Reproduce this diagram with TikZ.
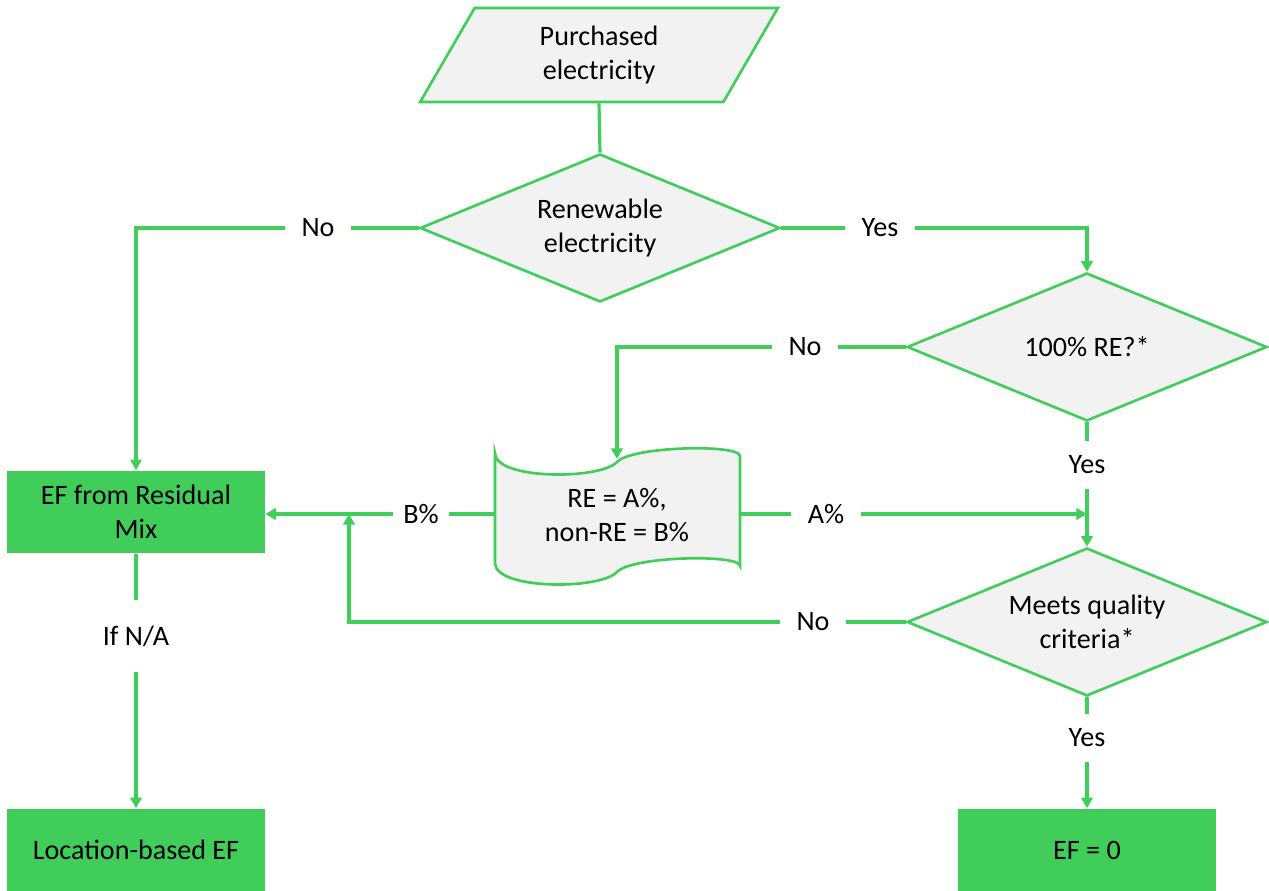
\documentclass[tikz,border=0pt]{standalone}
\usepackage{fontspec}
\setmainfont{Carlito}
\usetikzlibrary{shapes.geometric, arrows.meta, positioning}
\usepackage{xcolor}
\definecolor{flowgreen}{RGB}{64, 205, 90}
\definecolor{boxgray}{RGB}{242, 242, 242}
\tikzset{
    % Input box (parallelogram)
    input box/.style={
        trapezium, trapezium left angle=66, trapezium right angle=114,
        trapezium stretches=true, draw=flowgreen, line width=1.5pt, fill=boxgray,
        minimum width=7.16cm, minimum height=1.88cm, inner sep=0pt,
        align=center, font=\fontsize{16}{19.5}\selectfont
    },
    % Decision diamonds
    decision/.style={
        diamond, aspect=2.45, draw=flowgreen, line width=1.5pt, fill=boxgray,
        minimum width=7.2cm, minimum height=2.96cm, inner sep=0pt,
        align=center, font=\fontsize{16}{19.5}\selectfont
    },
    % Result boxes
    result box/.style={
        rectangle, fill=flowgreen, draw=none,
        minimum width=5.16cm, minimum height=1.66cm,
        align=center, font=\fontsize{16}{19.5}\selectfont
    },
    % Split box (wavy document)
    split shape/.style={
        draw=flowgreen, line width=1.5pt, fill=boxgray
    },
    % Connectors
    flow line/.style={
        draw=flowgreen, line width=1.8pt
    },
    flow arrow/.style={
        flow line, -{Triangle[length=6pt, width=6.5pt]}
    },
    % Yes / No labels on the lines
    line label/.style={
        fill=white, inner xsep=0.32cm, inner ysep=0.12cm,
        font=\fontsize{16}{19.5}\selectfont
    }
}

\begin{document}
\begin{tikzpicture}[x=0.02cm, y=-0.02cm]

    \useasboundingbox (0, 0) rectangle (1269, 891);

    % Start
    \node[input box] (purch) at (599, 55) {Purchased\\electricity};

    % Decisions
    \node[decision] (ren) at (600, 228) {Renewable\\electricity};
    \node[decision] (hundred) at (1087, 347) {100\% RE?*};
    \node[decision] (meets) at (1087, 622) {Meets quality\\criteria*};

    % Split of supply (wavy box)
    \draw[split shape] (495, 453) .. controls (495, 480) and (600, 480) .. (617, 462)
        .. controls (632, 446) and (740, 444) .. (740, 456) -- (740, 566)
        .. controls (740, 554) and (632, 556) .. (617, 572)
        .. controls (600, 590) and (495, 590) .. (495, 563) -- cycle;
    \node[align=center, font=\fontsize{16}{19.5}\selectfont] (split) at (617, 515) {RE = A\%,\\non-RE = B\%};
    \coordinate (splitT) at (617, 459);
    \coordinate (splitL) at (495, 514);
    \coordinate (splitR) at (740, 514);

    % Results
    \node[result box] (resid) at (136, 512) {EF from Residual\\Mix};
    \node[result box] (loc) at (136, 850) {Location-based EF};
    \node[result box] (zero) at (1087, 850) {EF = 0};

    % Labels
    \node[line label] (noRen) at (318, 228) {No};
    \node[line label] (yesRen) at (880, 228) {Yes};
    \node[line label] (noHun) at (805, 347) {No};
    \node[line label, inner xsep=0.1cm, inner ysep=0.3cm] (yesHun) at (1087, 465) {Yes};
    \node[line label] (aPct) at (826, 514) {A\%};
    \node[line label, inner xsep=0.2cm] (bPct) at (421, 514) {B\%};
    \node[line label] (noMeets) at (813, 622) {No};
    \node[line label, inner xsep=0.1cm, inner ysep=0.3cm] (yesMeets) at (1087, 738) {Yes};
    \node[line label, inner xsep=0.1cm, inner ysep=0.5cm] (ifNA) at (136, 636) {If N/A};

    % Join points on lines
    \coordinate (joinA) at (1087, 514);
    \coordinate (joinB) at (349, 514);

    % Connectors
    \draw[flow line] (purch.south) -- (ren.north);
    \draw[flow line] (ren.west) -- (noRen);
    \draw[flow arrow] (noRen) -| (resid.north);
    \draw[flow line] (ren.east) -- (yesRen);
    \draw[flow arrow] (yesRen) -| (hundred.north);
    \draw[flow line] (hundred.west) -- (noHun);
    \draw[flow arrow] (noHun) -| (splitT);
    \draw[flow line] (hundred.south) -- (yesHun);
    \draw[flow arrow] (yesHun) -- (meets.north);
    \draw[flow line] (splitR) -- (aPct);
    \draw[flow arrow] (aPct) -- (joinA);
    \draw[flow line] (splitL) -- (bPct);
    \draw[flow arrow] (bPct) -- (resid.east |- bPct);
    \draw[flow line] (meets.west) -- (noMeets);
    \draw[flow arrow] (noMeets) -| (joinB);
    \draw[flow line] (meets.south) -- (yesMeets);
    \draw[flow arrow] (yesMeets) -- (zero.north);
    \draw[flow line] (resid.south) -- (ifNA);
    \draw[flow arrow] (ifNA) -- (loc.north);

\end{tikzpicture}
\end{document}
